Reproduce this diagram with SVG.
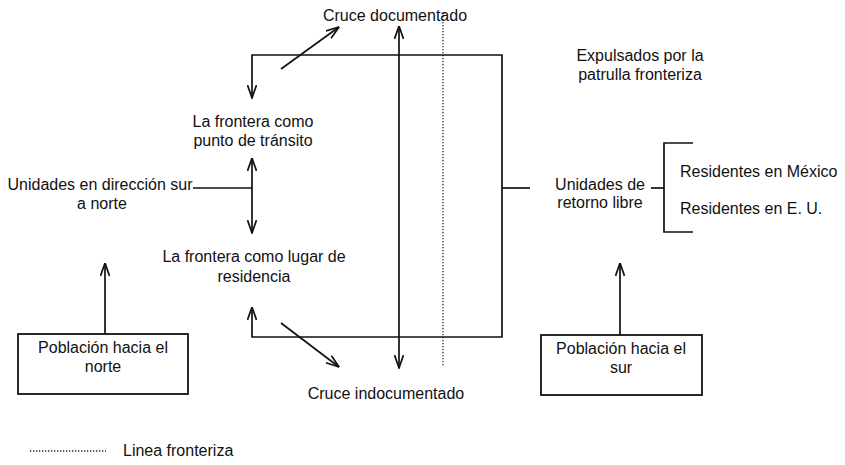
<svg xmlns="http://www.w3.org/2000/svg" width="845" height="465" viewBox="0 0 845 465">
<style>
text{font-family:"Liberation Sans",Arial,sans-serif;font-size:16px;fill:#111;}
.c{text-anchor:middle;}
.ln{fill:none;stroke:#111;stroke-width:1.7;}
.dot{fill:none;stroke:#222;stroke-width:1.3;stroke-dasharray:1.3 1.7;}
.box{fill:#fff;stroke:#111;stroke-width:1.8;}
</style>
<defs>
<marker id="ah" viewBox="0 0 14 10" refX="13.5" refY="5" markerWidth="14" markerHeight="10" markerUnits="userSpaceOnUse" orient="auto-start-reverse">
<path d="M0.5,0.5 L13.5,5 L0.5,9.5" fill="none" stroke="#111" stroke-width="1.7"/>
</marker>
</defs>
<rect width="845" height="465" fill="#fff"/>
<g id="connectors">
<path class="ln" d="M252,98 L252,55 L502,55 L502,337 L252,337 L252,307" marker-start="url(#ah)" marker-end="url(#ah)"/>
<line class="ln" x1="252" y1="158" x2="252" y2="233" marker-start="url(#ah)" marker-end="url(#ah)"/>
<line class="ln" x1="193" y1="188" x2="252" y2="188"/>
<line class="ln" x1="399" y1="26" x2="399" y2="368" marker-start="url(#ah)" marker-end="url(#ah)"/>
<line class="ln" x1="281" y1="69" x2="339" y2="27" marker-end="url(#ah)"/>
<line class="ln" x1="281" y1="323" x2="339" y2="367" marker-end="url(#ah)"/>
<line class="ln" x1="502" y1="188" x2="530" y2="188"/>
<line class="ln" x1="651" y1="188" x2="664" y2="188"/>
<path class="ln" d="M693,143 L664,143 L664,232 L693,232"/>
<line class="ln" x1="105" y1="334" x2="105" y2="263" marker-end="url(#ah)"/>
<line class="ln" x1="620" y1="335" x2="620" y2="263" marker-end="url(#ah)"/>
</g>
<g id="frontier-line">
<line class="dot" x1="443" y1="13" x2="443" y2="366"/>
</g>
<g id="cruce-documentado"><text class="c" x="395" y="21">Cruce documentado</text></g>
<g id="cruce-indocumentado"><text class="c" x="386" y="399">Cruce indocumentado</text></g>
<g id="punto-transito">
<text class="c" x="253" y="127">La frontera como</text>
<text class="c" x="253" y="146">punto de tránsito</text>
</g>
<g id="lugar-residencia">
<text class="c" x="254" y="262">La frontera como lugar de</text>
<text class="c" x="254" y="282">residencia</text>
</g>
<g id="unidades-sur-norte">
<text class="c" x="100" y="190">Unidades en dirección sur</text>
<text class="c" x="102" y="209">a norte</text>
</g>
<g id="expulsados">
<text class="c" x="640" y="61">Expulsados por la</text>
<text class="c" x="640" y="80">patrulla fronteriza</text>
</g>
<g id="retorno-libre">
<text class="c" x="600" y="190">Unidades de</text>
<text class="c" x="600" y="208">retorno libre</text>
</g>
<g id="residentes-mexico"><text x="680" y="177">Residentes en México</text></g>
<g id="residentes-eu"><text x="680" y="214">Residentes en E. U.</text></g>
<g id="poblacion-norte">
<rect class="box" x="18" y="334" width="170" height="60"/>
<text class="c" x="103" y="353">Población hacia el</text>
<text class="c" x="103" y="372">norte</text>
</g>
<g id="poblacion-sur">
<rect class="box" x="541" y="335" width="161" height="60"/>
<text class="c" x="621" y="354">Población hacia el</text>
<text class="c" x="621" y="373">sur</text>
</g>
<g id="legend">
<line class="dot" x1="30" y1="451" x2="106" y2="451"/>
<text x="123" y="456">Linea fronteriza</text>
</g>
</svg>
